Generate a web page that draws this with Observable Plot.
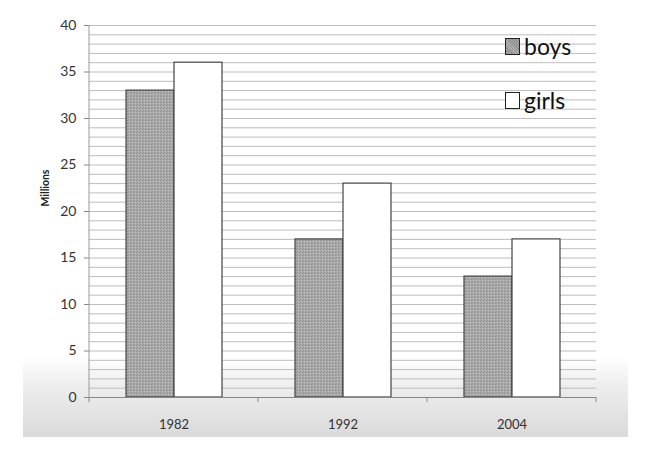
<!DOCTYPE html>
<html>
<head>
<meta charset="utf-8">
<script src="https://cdn.jsdelivr.net/npm/d3@7"></script>
<script src="https://cdn.jsdelivr.net/npm/@observablehq/plot@0.6"></script>
<style>
  html, body { margin: 0; padding: 0; background: #fff; }
  #wrap { position: relative; width: 651px; height: 453px; overflow: hidden; font-family: Lato, "Open Sans", sans-serif; }
  #shade { position: absolute; left: 23px; top: 358px; width: 605px; height: 79px;
           background: linear-gradient(to bottom, rgba(255,255,255,1) 0%, #eeeeee 35%, #dadada 100%); }
  #chart { position: absolute; left: 0; top: 0; }
  #chart svg { background: transparent !important; }
  .leg { position: absolute; left: 505px; font-size: 23px; color: #111; line-height: 1; }
  .sw { display: inline-block; width: 13px; height: 15px; border: 1px solid #222; vertical-align: 0px; margin-right: 4px; }
</style>
</head>
<body>
<div id="wrap">
  <div id="shade"></div>
  <div id="chart"></div>
  <div class="leg" id="leg-boys" style="top:35px"><span class="sw" style="background:#9a9a9a"></span>boys</div>
  <div class="leg" id="leg-girls" style="top:89px"><span class="sw" style="background:#fff"></span>girls</div>
</div>
<script>
const years = ["1982", "1992", "2004"];
const series = ["boys", "girls"];
const boys = [33, 17, 13];
const girls = [36, 23, 17];
const yTicks = [0, 5, 10, 15, 20, 25, 30, 35, 40];
const yLabel = "Millions";

const data = [];
years.forEach((yr, i) => {
  data.push({year: yr, sex: "boys", value: boys[i]});
  data.push({year: yr, sex: "girls", value: girls[i]});
});
const minorTicks = d3.range(0, 41, 1);

const plot = Plot.plot({
  width: 651,
  height: 453,
  marginLeft: 88,
  marginRight: 55,
  marginTop: 25,
  marginBottom: 56,
  style: {fontFamily: "Lato, 'Open Sans', sans-serif", background: "transparent"},
  fx: {domain: years, padding: 0, label: null},
  x: {domain: series, paddingInner: 0, paddingOuter: 0.745, axis: null},
  y: {domain: [0, 40], label: null},
  marks: [
    Plot.ruleY(minorTicks, {stroke: "#bdbdbd", strokeWidth: 1}),
    Plot.barY(data, {fx: "year", x: "sex", y: "value",
      fill: d => d.sex === "boys" ? "url(#dots)" : "#ffffff",
      stroke: "#444", strokeWidth: 1.2}),
    Plot.axisY({ticks: yTicks, tickSize: 5, tickPadding: 8, stroke: "#888", fill: "#333", fontSize: 14, label: null}),
    Plot.axisFx({anchor: "bottom", tickSize: 0, tickPadding: 22, fontSize: 13, fill: "#333", label: null}),
    Plot.ruleY([0], {stroke: "#888", strokeWidth: 1})
  ]
});
document.getElementById("chart").appendChild(plot);

const svg = d3.select(plot);
// pattern for boys fill
const defs = svg.insert("defs", ":first-child");
const pat = defs.append("pattern").attr("id", "dots").attr("patternUnits", "userSpaceOnUse")
  .attr("width", 3).attr("height", 3);
pat.append("rect").attr("width", 3).attr("height", 3).attr("fill", "#a9a9a9");
pat.append("rect").attr("x", 0).attr("y", 0).attr("width", 1).attr("height", 1).attr("fill", "#8c8c8c");
pat.append("rect").attr("x", 2).attr("y", 1).attr("width", 1).attr("height", 1).attr("fill", "#c4c4c4");
pat.append("rect").attr("x", 1).attr("y", 2).attr("width", 1).attr("height", 1).attr("fill", "#999");

const fx = plot.scale("fx");
const y = plot.scale("y");
const y0 = y.apply(0), y40 = y.apply(40);
const left = fx.apply(years[0]);
const right = fx.apply(years[years.length - 1]) + fx.bandwidth;
// left axis line
svg.append("line").attr("x1", left).attr("x2", left).attr("y1", y40).attr("y2", y0)
  .attr("stroke", "#999");
// category boundary ticks
const bounds = years.map(v => fx.apply(v)).concat([right]);
svg.append("g").selectAll("line").data(bounds).join("line")
  .attr("x1", d => d).attr("x2", d => d).attr("y1", y0).attr("y2", y0 + 5)
  .attr("stroke", "#888");
// y label
svg.append("text").attr("transform", `translate(49,${(y40 + y0) / 2 - 23}) rotate(-90)`)
  .attr("text-anchor", "middle").attr("font-weight", "bold").attr("font-size", 10.5)
  .attr("fill", "#222").text(yLabel);
// legend swatch pattern
document.querySelector("#leg-boys .sw").style.background =
  "repeating-linear-gradient(45deg,#8f8f8f 0 1px,#b0b0b0 1px 2px)";
</script>
</body>
</html>
